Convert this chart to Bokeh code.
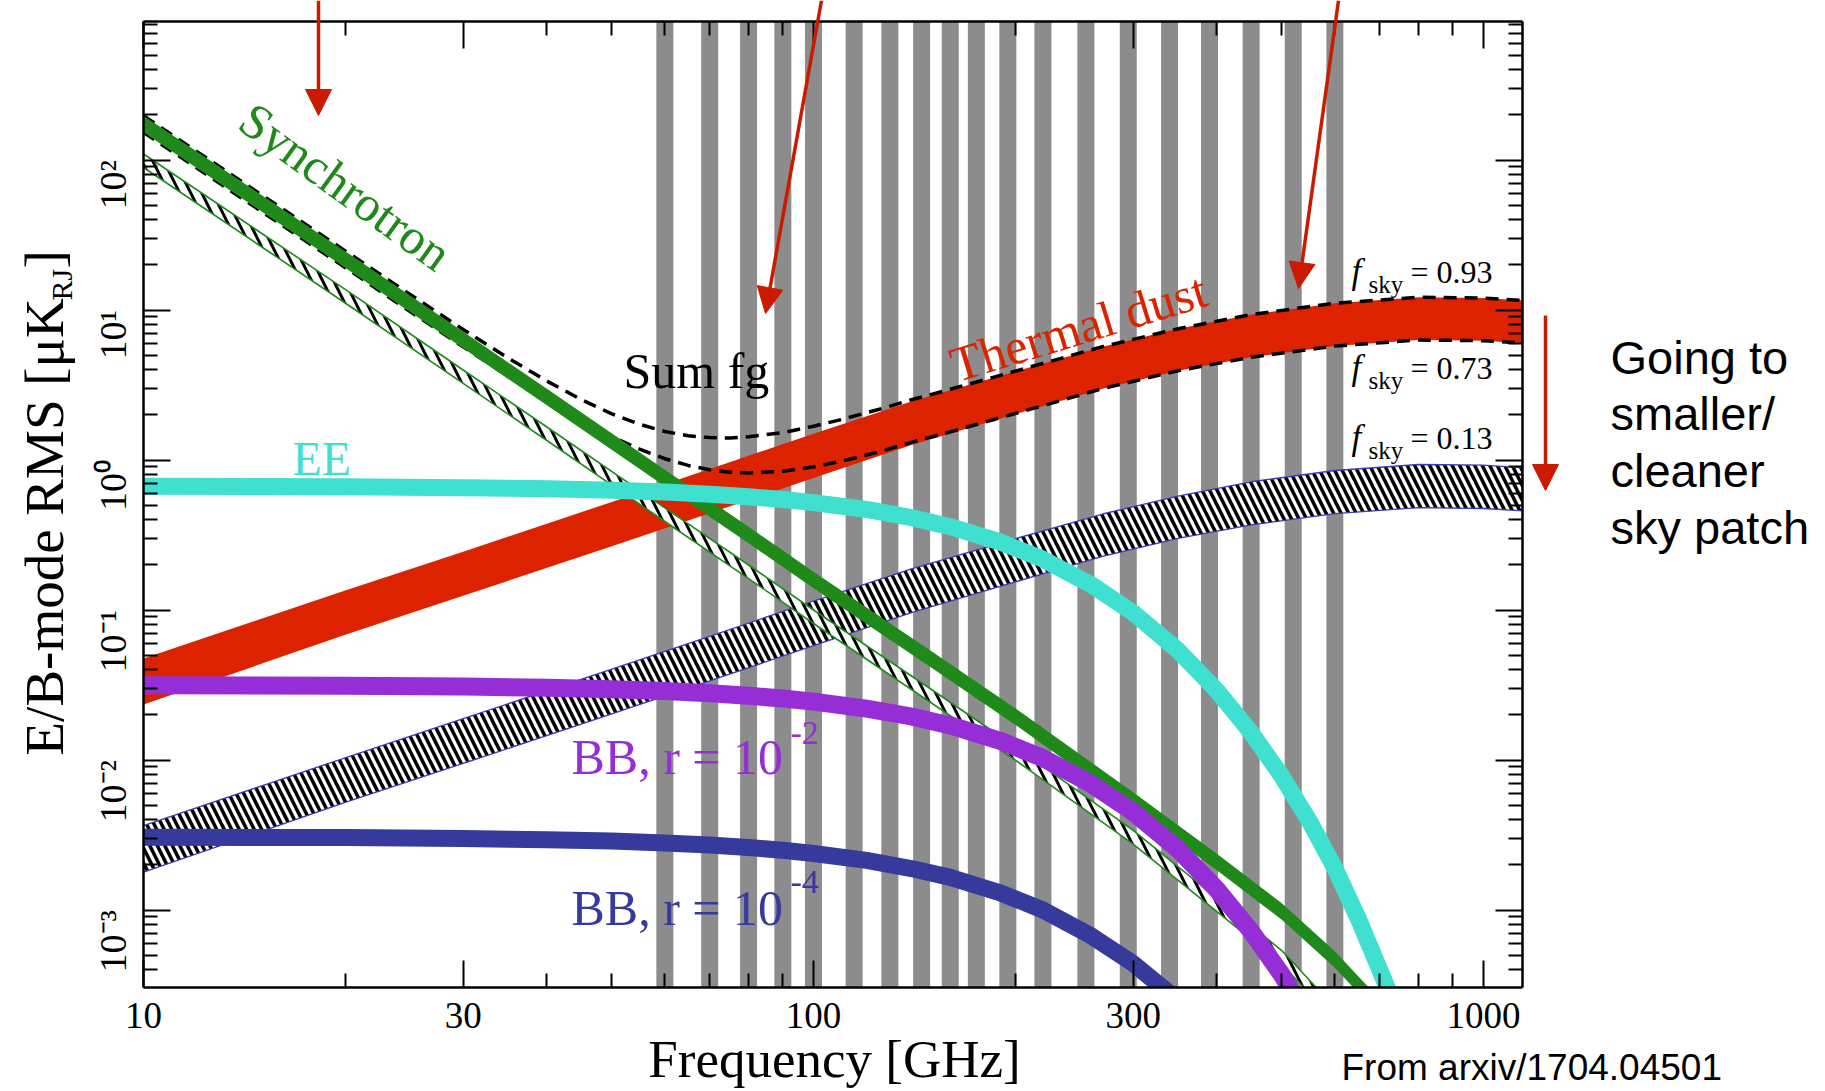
import math
from bokeh.plotting import figure
from bokeh.models import (Range1d, FixedTicker, CustomJSTickFormatter, LogAxis,
                          Label, Arrow, NormalHead)
from bokeh.embed import file_html
from bokeh.resources import INLINE

# ---------------- data ----------------
band_centers = [60, 70, 80, 90, 100, 115, 130, 145, 160, 175, 195, 220, 255,
                295, 340, 390, 450, 520, 600]

ee_freq = [10, 20, 30, 40, 50, 60, 70, 80, 90, 100, 120, 140, 160, 190, 220,
           260, 300, 350, 400, 450, 500, 550, 600, 650, 700, 750]
ee_rms = [0.668, 0.663, 0.654, 0.643, 0.628, 0.611, 0.591, 0.569, 0.546, 0.520,
          0.468, 0.413, 0.359, 0.284, 0.218, 0.147, 0.0958, 0.0538, 0.0290,
          0.0152, 0.0078, 0.0039, 0.00190, 0.00088, 0.00040, 0.00019]

bb2_freq = [10, 20, 30, 40, 50, 60, 70, 80, 90, 100, 120, 140, 160, 190, 220,
            260, 300, 350, 400, 450, 500, 550]
bb2_rms = [0.0315, 0.0313, 0.0309, 0.0303, 0.0296, 0.0288, 0.0279, 0.0268,
           0.0257, 0.0245, 0.0220, 0.0195, 0.0170, 0.0134, 0.0103, 0.0069,
           0.0045, 0.00254, 0.00137, 0.00072, 0.00037, 0.00018]

bb4_freq = [10, 20, 30, 40, 50, 60, 70, 80, 90, 100, 120, 140, 160, 190, 220,
            260, 300, 350, 400]
bb4_rms = [0.00306, 0.00304, 0.00300, 0.00294, 0.00288, 0.00280, 0.00271,
           0.00261, 0.00250, 0.00238, 0.00214, 0.00189, 0.00165, 0.00130,
           0.00100, 0.00067, 0.00044, 0.00025, 0.00013]

dust_freq = [10, 20, 30, 50, 70, 100, 140, 200, 270, 350, 450, 600, 800, 1000, 1150]
dust_fsky093 = [0.0475, 0.135, 0.245, 0.525, 0.871, 1.496, 2.455, 3.89, 5.69,
                7.50, 9.33, 11.09, 12.16, 12.02, 11.56]
dust_fsky073 = [0.0234, 0.0684, 0.1245, 0.266, 0.442, 0.759, 1.26, 2.02, 2.99,
                3.94, 4.84, 5.75, 6.31, 6.24, 6.01]
dust_fsky013_hi = [0.00365, 0.01035, 0.01884, 0.0403, 0.0668, 0.1148, 0.188,
                   0.2985, 0.4365, 0.575, 0.716, 0.851, 0.933, 0.923, 0.887]
dust_fsky013_lo = [0.001786, 0.00521, 0.00948, 0.0203, 0.0337, 0.0578, 0.0959,
                   0.1538, 0.2275, 0.300, 0.369, 0.4385, 0.481, 0.475, 0.458]

sync_freq = [10, 15, 20, 30, 40, 60, 80, 100, 150, 200, 300, 400, 500, 600, 700]
sync_hi = [197.2, 58.5, 24.66, 7.16, 2.985, 0.861, 0.359, 0.18, 0.0531, 0.02213,
           0.0061, 0.00237, 0.00111, 0.000531, 0.000254]
sync_lo = [153.1, 45.4, 19.14, 5.56, 2.317, 0.668, 0.279, 0.1396, 0.0412,
           0.01718, 0.00473, 0.00184, 0.000861, 0.000412, 0.000197]
sync_fsky013_hi = [109.6, 32.5, 13.71, 3.98, 1.66, 0.479, 0.1995, 0.1, 0.0295,
                   0.0123, 0.00339, 0.00120, 0.000537, 0.000224, 0.000100]
sync_fsky013_lo = [89.1, 26.4, 11.14, 3.24, 1.349, 0.389, 0.162, 0.0813, 0.024,
                   0.01, 0.00275, 0.000977, 0.000437, 0.000182, 0.0000813]

sum_freq = [10, 15, 20, 25, 30, 35, 40, 45, 50, 55, 60, 65, 70, 75, 80, 90, 100,
            110, 125, 140, 160, 200, 270, 350, 450, 600, 800, 1000, 1150]
sum_fg_093 = [197.2, 58.6, 24.8, 12.7, 7.41, 4.79, 3.36, 2.53, 2.03, 1.73, 1.55,
              1.45, 1.41, 1.40, 1.43, 1.52, 1.68, 1.86, 2.17, 2.52, 2.96, 3.91,
              5.70, 7.50, 9.33, 11.09, 12.16, 12.02, 11.56]
sum_fg_073 = [153.1, 45.4, 19.2, 9.78, 5.68, 3.63, 2.51, 1.84, 1.43, 1.18, 1.02,
              0.92, 0.86, 0.83, 0.82, 0.84, 0.90, 0.98, 1.13, 1.31, 1.54, 2.04,
              2.99, 3.94, 4.84, 5.75, 6.31, 6.24, 6.01]

x_tick_values = [10, 30, 100, 300, 1000]
x_tick_labels = ["10", "30", "100", "300", "1000"]
x_minor_values = [20, 40, 50, 60, 70, 80, 90, 200, 400, 500, 600, 700, 800, 900]
y_tick_values = [1e-3, 1e-2, 1e-1, 1e0, 1e1, 1e2]
y_tick_labels = ["10\u207b\u00b3", "10\u207b\u00b2", "10\u207b\u00b9",
                 "10\u2070", "10\u00b9", "10\u00b2"]

# plotted box (data limits of the axes)
X0, X1 = 10, 1143
Y0, Y1 = 3.04e-4, 838

y_minor_values = [k * 10.0 ** e for e in range(-4, 3) for k in range(2, 10)
                  if Y0 <= k * 10.0 ** e <= Y1]

# ---------------- layout / styling ----------------
W, H = 1820, 1090
BOX_LEFT_PX = 143.0     # pixel of x = 10
Y100_PX = 159.5         # pixel of y = 1e2
DEC_X, DEC_Y = 670.0, 150.0   # pixels per decade


def fx(px):
    return 10 ** (1 + (px - BOX_LEFT_PX) / DEC_X)


def fy(py):
    return 10 ** (2 - (py - Y100_PX) / DEC_Y)


GREEN = "#1f8a1a"
RED = "#dd2200"
CYAN = "#40e0d0"
PURPLE = "#952ed6"
BLUE = "#363a9c"
STRIPE = "#8c8c8c"
ARROW = "#cc1a00"
EDGE = "#3a3ab8"
SERIF = "Liberation Serif"
SANS = "Liberation Sans"

VX0, VX1 = fx(0), fx(W)
VY0, VY1 = fy(H), fy(0)

p = figure(width=W, height=H, x_axis_type="log", y_axis_type="log",
           x_range=Range1d(VX0, VX1), y_range=Range1d(VY0, VY1),
           output_backend="svg", toolbar_location=None, min_border=0)
p.xgrid.visible = False
p.ygrid.visible = False
p.background_fill_color = "white"
p.border_fill_color = "white"
p.outline_line_color = None


def fmt(vals, labs):
    return CustomJSTickFormatter(args=dict(vals=vals, labs=labs), code="""
        for (let i = 0; i < vals.length; i++) {
            if (Math.abs(Math.log10(vals[i]) - Math.log10(tick)) < 1e-6) return labs[i];
        }
        return "";
    """)


def style_axis(ax, ticks, minors, labels, show, loc, bounds):
    ax.fixed_location = loc
    ax.bounds = bounds
    ax.ticker = FixedTicker(ticks=ticks, minor_ticks=minors)
    ax.formatter = fmt(ticks, labels if show else [""] * len(ticks))
    ax.axis_line_width = 2.5
    ax.axis_line_color = "black"
    ax.major_tick_in = 27
    ax.major_tick_out = 0
    ax.minor_tick_in = 14
    ax.minor_tick_out = 0
    ax.major_tick_line_width = 2
    ax.minor_tick_line_width = 2
    ax.major_tick_line_color = "black"
    ax.minor_tick_line_color = "black"
    ax.major_label_text_font = SERIF
    ax.major_label_text_color = "black"
    if not show:
        ax.major_label_text_font_size = "0px"
        ax.major_label_standoff = 0


style_axis(p.xaxis[0], x_tick_values, x_minor_values, x_tick_labels, True, Y0, (X0, X1))
p.xaxis[0].major_label_text_font_size = "37px"
p.xaxis[0].major_label_standoff = 15
style_axis(p.yaxis[0], y_tick_values, y_minor_values, y_tick_labels, True, X0, (Y0, Y1))
p.yaxis[0].major_label_text_font_size = "38px"
p.yaxis[0].major_label_orientation = math.pi / 2
p.yaxis[0].major_label_standoff = 31

top_ax = LogAxis()
style_axis(top_ax, x_tick_values, x_minor_values, x_tick_labels, False, Y1, (X0, X1))
p.add_layout(top_ax, "above")
right_ax = LogAxis()
style_axis(right_ax, y_tick_values, y_minor_values, y_tick_labels, False, X1, (Y0, Y1))
p.add_layout(right_ax, "right")

# ---------------- glyphs ----------------
# observing bands
p.segment(x0=band_centers, x1=band_centers, y0=[Y0] * len(band_centers),
          y1=[Y1] * len(band_centers), line_width=17, line_color=STRIPE,
          line_cap="butt")

# dust, fsky = 0.13 (hatched)
p.varea(x=dust_freq, y1=dust_fsky013_lo, y2=dust_fsky013_hi, fill_color="white",
        hatch_pattern="\\", hatch_color="black", hatch_weight=3.5, hatch_scale=15)
p.line(dust_freq, dust_fsky013_hi, line_color=EDGE, line_width=1.3)
p.line(dust_freq, dust_fsky013_lo, line_color=EDGE, line_width=1.3)

# dust, fsky 0.73 - 0.93
p.varea(x=dust_freq, y1=dust_fsky073, y2=dust_fsky093, fill_color=RED)

# synchrotron, fsky = 0.13
p.varea(x=sync_freq, y1=sync_fsky013_lo, y2=sync_fsky013_hi, fill_color="white",
        hatch_pattern="\\", hatch_color="black", hatch_weight=3, hatch_scale=22)
p.line(sync_freq, sync_fsky013_hi, line_color=GREEN, line_width=1.6)
p.line(sync_freq, sync_fsky013_lo, line_color=GREEN, line_width=1.6)

# sum of foregrounds
p.line(sum_freq, sum_fg_093, line_color="black", line_width=3.5, line_dash="13 8")
p.line(sum_freq, sum_fg_073, line_color="black", line_width=3.5, line_dash="13 8")

# synchrotron band
p.varea(x=sync_freq, y1=sync_lo, y2=sync_hi, fill_color=GREEN)

# CMB
p.line(bb4_freq, bb4_rms, line_color=BLUE, line_width=17)
p.line(bb2_freq, bb2_rms, line_color=PURPLE, line_width=18)
p.line(ee_freq, ee_rms, line_color=CYAN, line_width=17)

# white margins around the plotted box (everything outside the axes box)
p.quad(left=[VX0, X1, X0, X0], right=[X0, VX1, X1, X1],
       bottom=[VY0, VY0, VY0, Y1], top=[VY1, VY1, Y0, VY1],
       fill_color="white", line_color=None)

# ---------------- texts ----------------
BASE_SHIFT = 0.32  # em offset between requested anchor and drawn baseline


def lab(px, py, text, size, color="black", font=SERIF, style="normal", align="left"):
    """horizontal text, (px, py) = baseline anchor in pixels"""
    p.add_layout(Label(x=fx(px), y=fy(py - BASE_SHIFT * size), text=text,
                       text_font=font, text_font_size=f"{size}px",
                       text_color=color, text_align=align,
                       text_baseline="alphabetic", text_font_style=style))


def vlab(px, py, text, size, color="black"):
    """text rotated 90 deg, (px, py) = start of baseline in pixels"""
    p.add_layout(Label(x=fx(px - BASE_SHIFT * size), y=fy(py), text=text,
                       text_font=SERIF, text_font_size=f"{size}px",
                       text_color=color, angle=math.pi / 2, text_align="left",
                       text_baseline="alphabetic"))


def clab(px, py, text, size, color, angle_deg):
    p.add_layout(Label(x=fx(px), y=fy(py), text=text, text_font=SERIF,
                       text_font_size=f"{size}px", text_color=color,
                       angle=math.radians(angle_deg), text_align="center",
                       text_baseline="middle"))


clab(345, 186, "Synchrotron", 50, GREEN, -36)
clab(1078, 327, "Thermal dust", 50, RED, 17)
lab(623, 386, "Sum fg", 50)
lab(292, 473, "EE", 48, CYAN)
lab(571, 772, "BB, r = 10", 50, PURPLE)
lab(790, 743, "-2", 34, PURPLE)
lab(571, 923, "BB, r = 10", 50, BLUE)
lab(790, 892, "-4", 34, BLUE)

for base, sub, val in [(282, 292, "= 0.93"), (378, 388, "= 0.73"),
                       (448, 458, "= 0.13")]:
    lab(1351, base, "f", 35, style="italic")
    lab(1368, sub, "sky", 25)
    lab(1410, base, val, 32)

# axis titles
lab(834, 1075, "Frequency [GHz]", 53, align="center")
vlab(62, 755, "E/B-mode RMS [\u03bcK", 55)
vlab(71, 300, "RJ", 30)
vlab(62, 268, "]", 55)

# side notes
for py, t in [(372, "Going to"), (428, "smaller/"), (485, "cleaner"),
              (542, "sky patch")]:
    lab(1610, py, t, 47, font=SANS)
lab(1341, 1079, "From arxiv/1704.04501", 37, font=SANS)

# arrows (pixel positions of start and tip)
for (sx, sy), (ex, ey) in [((318, 0), (318, 115)), ((821, 0), (765, 313)),
                           ((1338, 0), (1298, 288)), ((1545, 315), (1545, 490))]:
    p.add_layout(Arrow(end=NormalHead(size=26, fill_color=ARROW, line_color=ARROW,
                                      line_width=1),
                       x_start=fx(sx), y_start=fy(sy), x_end=fx(ex), y_end=fy(ey),
                       line_color=ARROW, line_width=3.5))

open("out.html", "w").write(file_html(p, INLINE))
